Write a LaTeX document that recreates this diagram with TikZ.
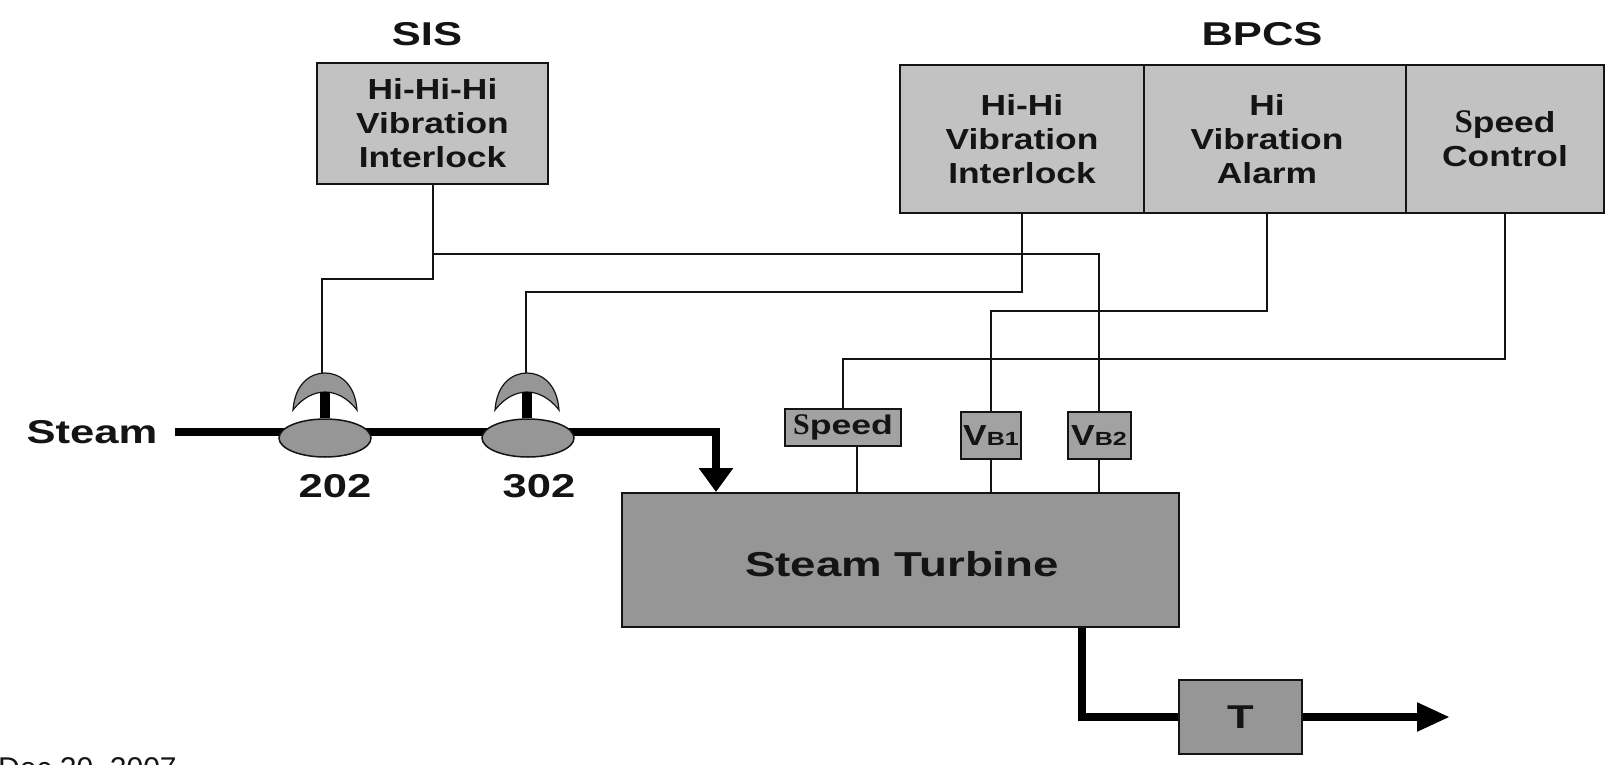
\documentclass[tikz,border=0pt]{standalone}
\usepackage{fontspec}
\setmainfont{Liberation Sans}
\newfontfamily\lblfont[FakeStretch=1.22]{Liberation Sans Bold}
\newfontfamily\widefont[FakeStretch=1.32]{Liberation Sans Bold}
\newfontfamily\serifb{Liberation Serif Bold}
\usetikzlibrary{arrows.meta,shapes.geometric}
\definecolor{lightbox}{HTML}{C2C2C2}
\definecolor{midbox}{HTML}{A2A2A2}
\definecolor{darkbox}{HTML}{969696}
\definecolor{inkc}{HTML}{141414}
\tikzset{
  cellbox/.style={draw=inkc,line width=2pt,fill=lightbox,align=center,inner sep=0pt,text=inkc,
    font=\lblfont\fontsize{29}{34}\selectfont},
  celltext/.style={align=center,inner sep=0pt,text=inkc,font=\lblfont\fontsize{29}{34}\selectfont},
  sensor/.style={draw=inkc,line width=2pt,fill=midbox,inner sep=0pt,text=inkc,
    font=\widefont\fontsize{27}{30}\selectfont},
  procbox/.style={draw=inkc,line width=2pt,fill=darkbox,inner sep=0pt,text=inkc,
    font=\widefont\fontsize{33}{36}\selectfont},
  valvebody/.style={ellipse,draw=inkc,line width=1.5pt,fill=darkbox,minimum width=92pt,minimum height=38pt,inner sep=0pt},
  lbl/.style={inner sep=0pt,text=inkc,font=\widefont\fontsize{33}{36}\selectfont},
  wire/.style={draw=inkc,line width=2pt},
  pipe/.style={draw=black,line width=8pt},
  inhead/.style={-{Triangle[length=24pt,width=33pt]}},
  outhead/.style={-{Triangle[length=33pt,width=27pt]}},
  crescent/.style={draw=inkc,line width=1.2pt,fill=darkbox}
}
\newcommand{\actuatorat}[1]{%
  \path[crescent] ([shift={(-32,37)}]#1) .. controls ([shift={(-30,10)}]#1) and ([shift={(-14,0)}]#1) .. ([shift={(0,0)}]#1)
   .. controls ([shift={(14,0)}]#1) and ([shift={(30,10)}]#1) .. ([shift={(32,37)}]#1)
   .. controls ([shift={(22,24)}]#1) and ([shift={(10,19)}]#1) .. ([shift={(0,19)}]#1)
   .. controls ([shift={(-10,19)}]#1) and ([shift={(-22,24)}]#1) .. ([shift={(-32,37)}]#1) -- cycle;}
\newcommand{\bigS}[1]{{\serifb\fontsize{#1}{#1}\selectfont S}}
\newcommand{\bigV}{{\lblfont\fontsize{29}{29}\selectfont V}}
\newcommand{\smallB}[1]{{\fontsize{19}{19}\selectfont B#1}}
\begin{document}
\begin{tikzpicture}[x=1pt,y=-1pt]
\useasboundingbox (0,0) rectangle (1614,764);
\clip (0,0) rectangle (1614,764);
\fill[white] (0,0) rectangle (1614,764);

\coordinate (steamstart) at (175,432);
\coordinate (a202) at (325,373);
\coordinate (a302) at (527,373);
\coordinate (tip) at (1450,717);

% boxes
\node[cellbox,minimum width=231pt,minimum height=121pt] (sis) at (432.5,123.5) {Hi-Hi-Hi\\Vibration\\Interlock};
\node[cellbox,minimum width=244pt,minimum height=148pt] (hihi) at (1022,139) {Hi-Hi\\Vibration\\Interlock};
\node[cellbox,minimum width=262pt,minimum height=148pt] (alarm) at (1275,139) {};
\node[celltext] (alarmtext) at (1267,139) {Hi\\Vibration\\Alarm};
\node[cellbox,minimum width=198pt,minimum height=148pt] (speedc) at (1505,139) {\bigS{33}peed\\Control};
\node[procbox,minimum width=557pt,minimum height=134pt] (tur) at (900.5,560) {};
\node[lbl,font=\widefont\fontsize{34.6}{36}\selectfont] (turtext) at (902,564) {Steam Turbine};
\node[procbox,minimum width=123pt,minimum height=74pt] (t) at (1240.5,717) {T};
\node[sensor,minimum width=116pt,minimum height=37pt] (sp) at (843,427.5) {\bigS{30}peed};
\node[sensor,minimum width=60pt,minimum height=47pt] (vb1) at (991,435.5) {\bigV\smallB{1}};
\node[sensor,minimum width=63pt,minimum height=47pt] (vb2) at (1099,435.5) {\bigV\smallB{2}};

% labels
\node[lbl] (sislbl) at (427,34) {SIS};
\node[lbl] (bpcslbl) at (1262,34) {BPCS};
\node[lbl] (steamlbl) at (92,432) {Steam};
\node[lbl] (l202) at (335,486) {202};
\node[lbl] (l302) at (539,486) {302};
\node[anchor=base west,inner sep=0pt,text=inkc,font=\fontsize{30}{32}\selectfont] (date) at (-2,778.5) {Dec 20, 2007};

\path (325,438) coordinate (v202c) (528,438) coordinate (v302c);

% thin signal wires
\draw[wire] (sis.south) -- ++(0,94) -| ([xshift=-3pt]a202);
\draw[wire] ([yshift=-69pt]sis.south) -| (vb2.north);
\draw[wire] (hihi.south) -- ++(0,78) -| ([xshift=-1pt]a302);
\draw[wire] ([xshift=-8pt]alarm.south) -- ++(0,97) -| (vb1.north);
\draw[wire] (speedc.south) -- ++(0,145) -| (sp.north);
\draw[wire] ([xshift=14pt]sp.south) -- ([xshift=14pt]sp.south |- tur.north);
\draw[wire] (vb1.south) -- (vb1.south |- tur.north);
\draw[wire] (vb2.south) -- (vb2.south |- tur.north);

% process pipes
\draw[pipe,inhead] (steamstart) -| ([xshift=95pt]tur.north west);
\draw[pipe] ([xshift=461pt]tur.south west) |- (t.west);
\draw[pipe,outhead] (t.east) -- (tip);

% valves
\node[valvebody] (v202) at (v202c) {};
\node[valvebody] (v302) at (v302c) {};
\actuatorat{a202}
\actuatorat{a302}
\draw[black,line width=10pt] ([yshift=-19pt]a202) -- (a202 |- v202.north);
\draw[black,line width=10pt] ([yshift=-19pt]a302) -- (a302 |- v302.north);
\end{tikzpicture}
\end{document}
